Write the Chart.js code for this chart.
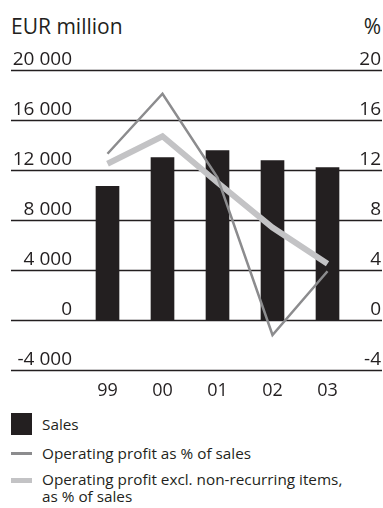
<!DOCTYPE html>
<html>
<head>
<meta charset="utf-8">
<script src="https://cdn.jsdelivr.net/npm/chart.js@4.4.1/dist/chart.umd.min.js"></script>
<style>
  body { margin: 0; background: #fff; font-family: "Open Sans", sans-serif; color: #231f20; }
  #wrap { position: relative; width: 383px; height: 508px; overflow: hidden; }
  #chartBox { position: absolute; left: 0; top: 0; width: 383px; height: 410px; }
  .unit { position: absolute; top: 12px; font-size: 21px; line-height: 29px; }
  .leg { position: absolute; left: 0; width: 383px; font-size: 15.3px; line-height: 17px; }
  .leg .sw { position: absolute; left: 11px; width: 21px; }
  .leg .tx { position: absolute; left: 42px; }
</style>
</head>
<body>
<div id="wrap">
  <div class="unit" style="left:11px">EUR million</div>
  <div class="unit" style="right:2px">%</div>
  <div id="chartBox"><canvas id="myChart"></canvas></div>

  <div class="leg" style="top:413px">
    <div class="sw" style="top:0; height:22px; background:#231f20"></div>
    <div class="tx" style="top:3px">Sales</div>
  </div>
  <div class="leg" style="top:445px">
    <div class="sw" style="top:7px; height:3px; background:#8c8c8e"></div>
    <div class="tx" style="top:0">Operating profit as % of sales</div>
  </div>
  <div class="leg" style="top:471px">
    <div class="sw" style="top:7px; height:5px; background:#c3c3c5"></div>
    <div class="tx" style="top:0">Operating profit excl. non-recurring items,<br>as % of sales</div>
  </div>
</div>

<script>
  // years on the x axis
  const years = ['99', '00', '01', '02', '03']
  // sales, EUR million (left axis)
  const sales = [10700, 13000, 13560, 12760, 12200]
  // operating profit as % of sales (right axis)
  const opProfitPct = [13.3, 18.1, 11.4, -1.2, 3.9]
  // operating profit excl. non-recurring items, % of sales
  const opProfitExclPct = [12.5, 14.7, 11.0, 7.4, 4.5]
  // axis ranges
  const salesMin = -4000, salesMax = 20000, salesStep = 4000
  const pctMin = -4, pctMax = 20, pctStep = 4

  const INK = '#231f20'
  const FONT = { family: '"Open Sans", sans-serif', size: 19 }

  function spaced(v) {
    // 20000 -> "20 000"
    const s = Math.abs(v).toString().replace(/\B(?=(\d{3})+(?!\d))/g, ' ')
    return (v < 0 ? '-' : '') + s
  }

  // horizontal rules across the whole width at every left-axis tick
  const wideGrid = {
    id: 'wideGrid',
    beforeDatasetsDraw(chart) {
      const ctx = chart.ctx
      const y = chart.scales.y
      ctx.save()
      ctx.strokeStyle = INK
      ctx.lineWidth = 1.3
      y.ticks.forEach(t => {
        const py = Math.round(y.getPixelForValue(t.value)) + 0.5
        ctx.beginPath()
        ctx.moveTo(11, py)
        ctx.lineTo(382, py)
        ctx.stroke()
      })
      ctx.restore()
    }
  }

  const ctx = document.getElementById('myChart').getContext('2d')
  const chart = new Chart(ctx, {
    data: {
      labels: years,
      datasets: [
        {
          type: 'line',
          label: 'Operating profit as % of sales',
          data: opProfitPct,
          yAxisID: 'y2',
          borderColor: '#8c8c8e',
          borderWidth: 2.5,
          pointRadius: 0,
          tension: 0,
          borderCapStyle: 'butt',
          borderJoinStyle: 'miter',
          order: 1
        },
        {
          type: 'line',
          label: 'Operating profit excl. non-recurring items, as % of sales',
          data: opProfitExclPct,
          yAxisID: 'y2',
          borderColor: '#c3c3c5',
          borderWidth: 6,
          pointRadius: 0,
          tension: 0,
          borderCapStyle: 'butt',
          borderJoinStyle: 'miter',
          order: 2
        },
        {
          type: 'bar',
          label: 'Sales',
          data: sales,
          yAxisID: 'y',
          backgroundColor: INK,
          barThickness: 23,
          order: 3
        }
      ]
    },
    options: {
      responsive: true,
      maintainAspectRatio: false,
      animation: false,
      layout: { padding: { top: 70, right: 2, left: 0, bottom: 0 } },
      plugins: { legend: { display: false }, tooltip: { enabled: false } },
      scales: {
        x: {
          grid: { display: false },
          border: { display: false },
          ticks: { color: INK, font: { family: FONT.family, size: 18 }, padding: 2 },
          afterFit(scale) { scale.height = 40 }
        },
        y: {
          position: 'left',
          min: salesMin, max: salesMax,
          grid: { display: false, drawTicks: false },
          border: { display: false },
          ticks: {
            stepSize: salesStep, color: INK, font: FONT, padding: 8,
            labelOffset: -10,
            callback: v => spaced(v)
          },
          afterFit(scale) { scale.width = 80 }
        },
        y2: {
          position: 'right',
          min: pctMin, max: pctMax,
          grid: { display: false, drawTicks: false },
          border: { display: false },
          ticks: {
            stepSize: pctStep, color: INK, font: FONT, padding: 0,
            labelOffset: -10, crossAlign: 'far'
          },
          afterFit(scale) { scale.width = 26 }
        }
      }
    },
    plugins: [wideGrid]
  })
</script>
</body>
</html>
